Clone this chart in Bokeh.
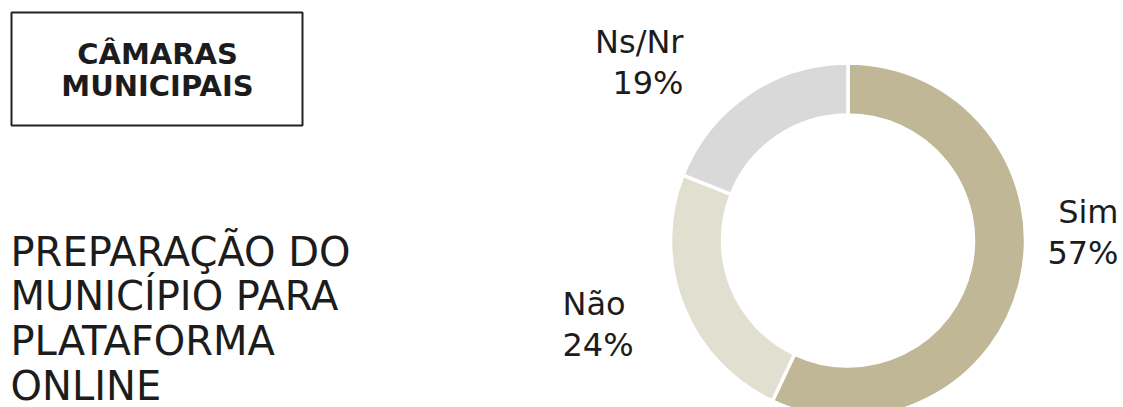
import numpy as np
from bokeh.plotting import figure
from bokeh.models import ColumnDataSource, Range1d, BoxAnnotation
from bokeh.core.properties import value
from bokeh.embed import file_html
from bokeh.resources import INLINE

# ---- data ----
categories = ["Sim", "Não", "Ns/Nr"]
values = [57, 24, 19]
colors = ["#bfb796", "#e0dfd0", "#d9d9d9"]
box_lines = ["CÂMARAS", "MUNICIPAIS"]
title_lines = ["PREPARAÇÃO DO", "MUNICÍPIO PARA", "PLATAFORMA", "ONLINE"]

W, H = 1123, 407
FONT = "DejaVu Sans"
INK = "#1c1c1c"
BASE_FIX = 12  # renderer places alphabetic baseline a little low

def Y(img_y):
    return H - img_y

def YT(img_baseline):
    return H - (img_baseline - BASE_FIX)

p = figure(width=W, height=H, output_backend="svg", toolbar_location=None,
           x_range=Range1d(0, W), y_range=Range1d(0, H),
           x_axis_type=None, y_axis_type=None, min_border=0)
p.outline_line_color = None
p.grid.visible = False
p.background_fill_color = "white"
p.border_fill_color = "white"

# ---- donut ----
cx, cy = 847.5, Y(240)
vals = np.array(values, dtype=float)
frac = vals / vals.sum()
ends_cum = np.cumsum(frac)
starts_cum = ends_cum - frac
start_angle = np.pi / 2 - 2 * np.pi * starts_cum
end_angle = np.pi / 2 - 2 * np.pi * ends_cum
src = ColumnDataSource(dict(cat=categories, val=values, color=colors,
                            start=start_angle, end=end_angle,
                            x=[cx] * 3, y=[cy] * 3))
p.annular_wedge(x="x", y="y", inner_radius=125.5, outer_radius=177.5,
                inner_radius_units="screen", outer_radius_units="screen",
                start_angle="start", end_angle="end", direction="clock",
                fill_color="color", line_color="white", line_width=3.5, source=src)

# ---- slice labels (layout: anchor x, first baseline, align) ----
label_layout = {
    "Sim": (1118, 223, "right"),
    "Não": (562, 315, "left"),
    "Ns/Nr": (683, 53, "right"),
}
for cat, v in zip(categories, values):
    lx, ly, al = label_layout[cat]
    p.text(x=[lx, lx], y=[YT(ly), YT(ly + 41)], text=[cat, f"{v}%"],
           text_font=value(FONT), text_font_size="32px", text_color=INK,
           text_align=al, text_baseline="alphabetic")

# ---- boxed header ----
p.add_layout(BoxAnnotation(left=11, right=302, top=Y(12), bottom=Y(125),
                           fill_alpha=0, line_color="#222222", line_alpha=1,
                           line_width=2))
p.text(x=[157, 157], y=[YT(65), YT(97)], text=box_lines,
       text_font=value(FONT), text_font_size="29px", text_font_style="bold",
       text_color=INK, text_align="center", text_baseline="alphabetic")

# ---- title ----
p.text(x=[10] * 4, y=[YT(263), YT(307), YT(352), YT(397)], text=title_lines,
       text_font=value(FONT), text_font_size="40px", text_color=INK,
       text_align="left", text_baseline="alphabetic")

open("out.html", "w").write(file_html(p, INLINE))
